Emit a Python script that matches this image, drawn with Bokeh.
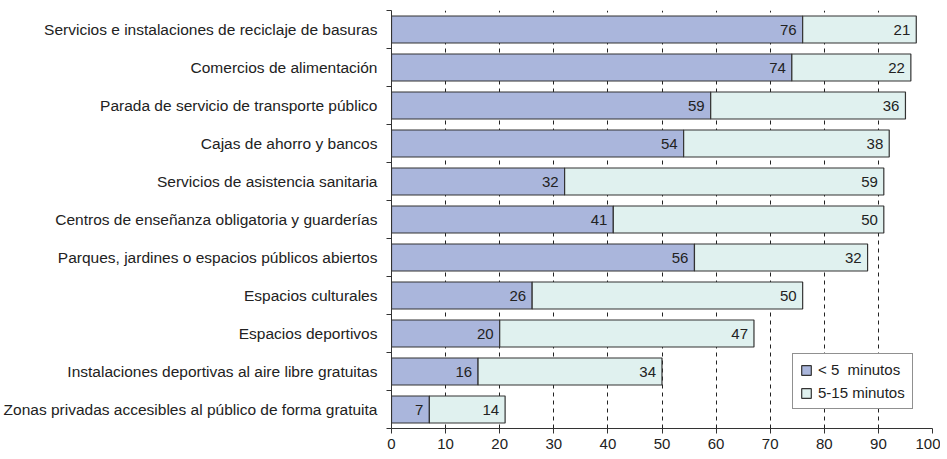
from bokeh.plotting import figure
from bokeh.models import FixedTicker, Legend, LegendItem, ColumnDataSource
from bokeh.embed import file_html
from bokeh.resources import INLINE
from bokeh.core.properties import value

categories = [
    "Servicios e instalaciones de reciclaje de basuras",
    "Comercios de alimentación",
    "Parada de servicio de transporte público",
    "Cajas de ahorro y bancos",
    "Servicios de asistencia sanitaria",
    "Centros de enseñanza obligatoria y guarderías",
    "Parques, jardines o espacios públicos abiertos",
    "Espacios culturales",
    "Espacios deportivos",
    "Instalaciones deportivas al aire libre gratuitas",
    "Zonas privadas accesibles al público de forma gratuita",
]
lt5 = [76, 74, 59, 54, 32, 41, 56, 26, 20, 16, 7]
m5_15 = [21, 22, 36, 38, 59, 50, 32, 50, 47, 34, 14]
series_names = ["< 5  minutos", "5-15 minutos"]
x_ticks = [0, 10, 20, 30, 40, 50, 60, 70, 80, 90, 100]

FONT = "Liberation Sans"
n = len(categories)
ypos = [n - 1 - i + 0.5 for i in range(n)]
ends1 = lt5
ends2 = [a + b for a, b in zip(lt5, m5_15)]

src = ColumnDataSource(dict(y=ypos, a=lt5, b=m5_15, e1=ends1, e2=ends2,
                            zero=[0] * n, la=[str(v) for v in lt5], lb=[str(v) for v in m5_15]))

p = figure(width=940, height=458, output_backend="svg", toolbar_location=None,
           x_range=(0, 100), y_range=(0, n),
           min_border_left=391, min_border_right=8, min_border_top=10, min_border_bottom=30)
p.outline_line_color = None
p.background_fill_color = "white"

# grid
p.ygrid.grid_line_color = None
p.xgrid.ticker = FixedTicker(ticks=x_ticks[1:])
p.xgrid.grid_line_color = "#222222"
p.xgrid.grid_line_dash = "4 4"
p.xgrid.grid_line_width = 1

r1 = p.hbar(y="y", left="zero", right="e1", height=0.71, source=src,
            fill_color="#aab6dc", line_color="#333333", line_width=1.2)
r2 = p.hbar(y="y", left="e1", right="e2", height=0.71, source=src,
            fill_color="#e0f1ef", line_color="#333333", line_width=1.2)

p.text(x="e1", y="y", text="la", source=src, text_align="right", text_baseline="middle",
       x_offset=-6, text_font=value(FONT), text_font_size="15px", text_color="#222222")
p.text(x="e2", y="y", text="lb", source=src, text_align="right", text_baseline="middle",
       x_offset=-6, text_font=value(FONT), text_font_size="15px", text_color="#222222")

# x axis
xa = p.xaxis[0]
xa.ticker = FixedTicker(ticks=x_ticks, minor_ticks=[])
xa.axis_line_color = "#333333"
xa.major_tick_line_color = "#333333"
xa.major_tick_out = 5
xa.major_tick_in = 0
xa.minor_tick_line_color = None
xa.major_label_text_font = FONT
xa.major_label_text_font_size = "15px"
xa.major_label_text_color = "#222222"
xa.major_label_standoff = 5

# y axis
ya = p.yaxis[0]
ya.ticker = FixedTicker(ticks=ypos, minor_ticks=list(range(0, n + 1)))
ya.major_label_overrides = {y: c for y, c in zip(ypos, categories)}
ya.axis_line_color = "#333333"
ya.major_tick_line_color = None
ya.major_tick_out = 0
ya.major_tick_in = 0
ya.minor_tick_line_color = "#333333"
ya.minor_tick_out = 5
ya.minor_tick_in = 0
ya.major_label_text_font = FONT
ya.major_label_text_font_size = "15.5px"
ya.major_label_text_color = "#222222"
ya.major_label_standoff = 9

legend = Legend(items=[LegendItem(label=series_names[0], renderers=[r1]),
                       LegendItem(label=series_names[1], renderers=[r2])],
                location=(401, 19))
legend.border_line_color = "#222222"
legend.border_line_width = 1
legend.background_fill_alpha = 1
legend.label_text_font = FONT
legend.label_text_font_size = "15px"
legend.label_text_color = "#222222"
legend.glyph_width = 12
legend.glyph_height = 12
legend.label_height = 16
legend.spacing = 6
legend.padding = 7
legend.margin = 0
legend.label_standoff = 6
p.add_layout(legend, "center")

open("out.html", "w").write(file_html(p, INLINE))
